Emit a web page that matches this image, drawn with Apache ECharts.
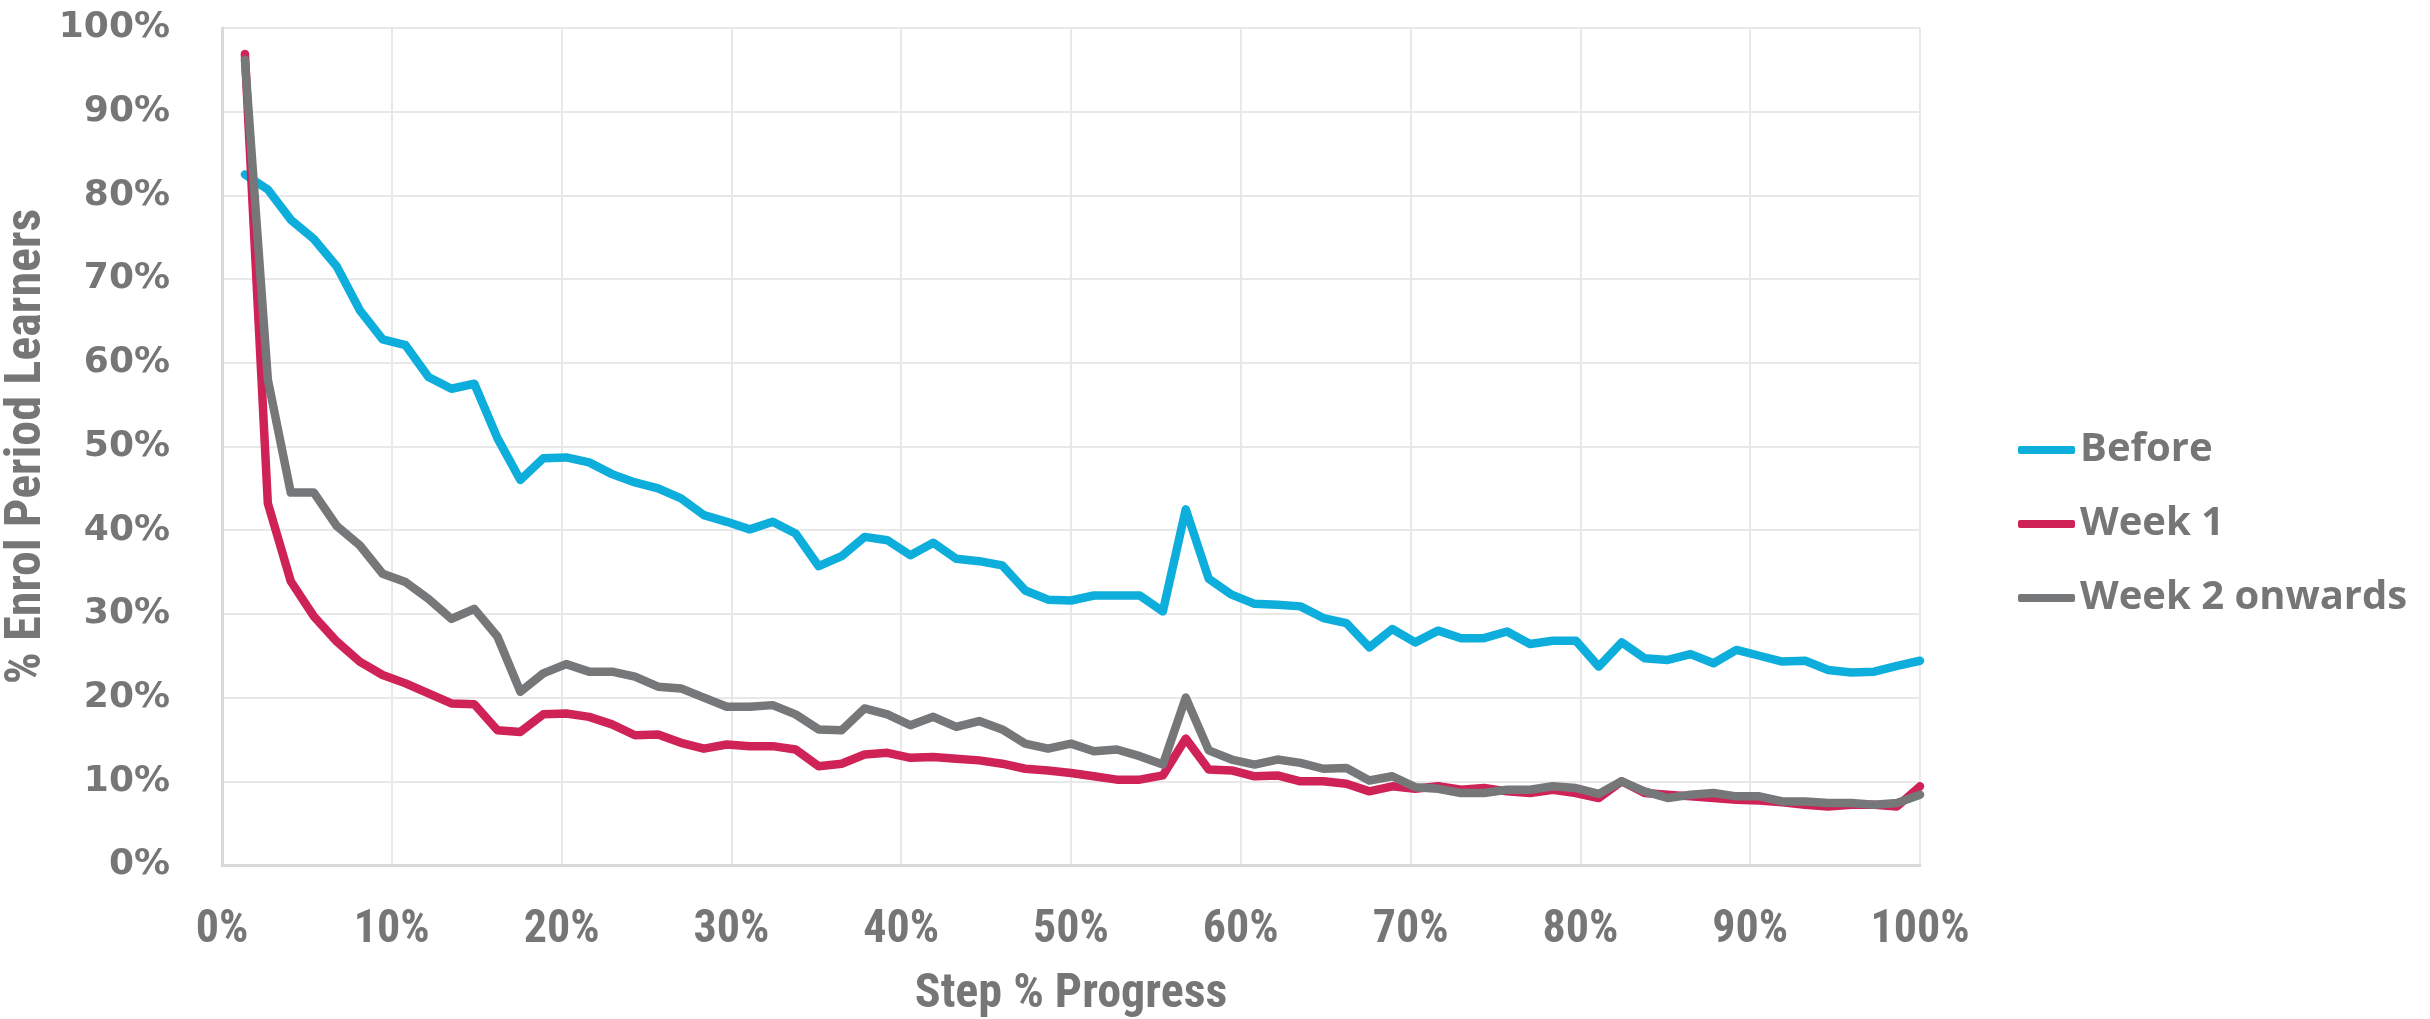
<!DOCTYPE html>
<html>
<head>
<meta charset="utf-8">
<title>Step progress by enrolment period</title>
<script src="https://cdn.jsdelivr.net/npm/echarts@6/dist/echarts.min.js"></script>
<style>
  html, body { margin: 0; padding: 0; background: #ffffff; }
  #chart { width: 2430px; height: 1019px; }
</style>
</head>
<body>
<div id="chart"></div>
<script>
// Step % progress (74 steps in the course)
const stepProgress = [
  1.35, 2.70, 4.05, 5.41, 6.76, 8.11, 9.46, 10.81, 12.16, 13.51,
  14.86, 16.22, 17.57, 18.92, 20.27, 21.62, 22.97, 24.32, 25.68, 27.03,
  28.38, 29.73, 31.08, 32.43, 33.78, 35.14, 36.49, 37.84, 39.19, 40.54,
  41.89, 43.24, 44.59, 45.95, 47.30, 48.65, 50.00, 51.35, 52.70, 54.05,
  55.41, 56.76, 58.11, 59.46, 60.81, 62.16, 63.51, 64.86, 66.22, 67.57,
  68.92, 70.27, 71.62, 72.97, 74.32, 75.68, 77.03, 78.38, 79.73, 81.08,
  82.43, 83.78, 85.14, 86.49, 87.84, 89.19, 90.54, 91.89, 93.24, 94.59,
  95.95, 97.30, 98.65, 100.00
];

// % of learners from each enrolment period reaching each step
const before = [
  82.5, 80.7, 77.1, 74.8, 71.5, 66.3, 62.8, 62.1, 58.3, 56.9,
  57.5, 51.0, 46.0, 48.6, 48.7, 48.1, 46.7, 45.7, 45.0, 43.8,
  41.8, 41.0, 40.1, 41.0, 39.6, 35.7, 36.9, 39.2, 38.8, 37.0,
  38.5, 36.6, 36.3, 35.8, 32.8, 31.7, 31.6, 32.2, 32.2, 32.2,
  30.3, 42.5, 34.2, 32.3, 31.2, 31.1, 30.9, 29.5, 28.9, 26.0,
  28.2, 26.6, 28.0, 27.1, 27.1, 27.9, 26.4, 26.8, 26.8, 23.7,
  26.6, 24.7, 24.5, 25.2, 24.1, 25.7, 25.0, 24.3, 24.4, 23.3,
  23.0, 23.1, 23.8, 24.4
];

const week1 = [
  96.9, 43.2, 33.9, 29.7, 26.7, 24.3, 22.7, 21.7, 20.5, 19.3,
  19.2, 16.1, 15.9, 18.0, 18.1, 17.7, 16.8, 15.5, 15.6, 14.6,
  13.9, 14.4, 14.2, 14.2, 13.8, 11.8, 12.1, 13.2, 13.4, 12.8,
  12.9, 12.7, 12.5, 12.1, 11.5, 11.3, 11.0, 10.6, 10.2, 10.2,
  10.7, 15.1, 11.4, 11.3, 10.6, 10.7, 10.0, 10.0, 9.7, 8.8,
  9.4, 9.1, 9.4, 9.0, 9.2, 8.8, 8.6, 9.0, 8.6, 8.0,
  10.0, 8.6, 8.4, 8.2, 8.0, 7.8, 7.7, 7.5, 7.2, 7.0,
  7.2, 7.2, 7.0, 9.4
];

const week2Onwards = [
  96.2, 58.0, 44.5, 44.5, 40.5, 38.2, 34.8, 33.8, 31.8, 29.4,
  30.6, 27.3, 20.7, 22.9, 24.0, 23.1, 23.1, 22.5, 21.3, 21.1,
  20.0, 18.9, 18.9, 19.1, 18.0, 16.2, 16.1, 18.7, 18.0, 16.7,
  17.7, 16.5, 17.2, 16.2, 14.5, 13.9, 14.5, 13.6, 13.8, 13.0,
  12.0, 20.0, 13.7, 12.6, 12.0, 12.6, 12.2, 11.5, 11.6, 10.1,
  10.6, 9.3, 9.1, 8.6, 8.6, 9.0, 9.0, 9.4, 9.2, 8.5,
  10.0, 8.8, 8.0, 8.4, 8.6, 8.2, 8.2, 7.6, 7.6, 7.4,
  7.4, 7.2, 7.4, 8.4
];

const seriesNames = ['Before', 'Week 1', 'Week 2 onwards'];
const seriesColors = ['#0DAEDB', '#CF2257', '#767779'];

const textGrey = '#767676';
const narrowFont = '"Liberation Sans Narrow", "Roboto Condensed", "DejaVu Sans Condensed", sans-serif';

function pairs(values) {
  return values.map((v, i) => [stepProgress[i], v]);
}

const chart = echarts.init(document.getElementById('chart'), null, { renderer: 'canvas' });

const lineSeries = [before, week1, week2Onwards].map((vals, k) => ({
  name: seriesNames[k],
  type: 'line',
  data: pairs(vals),
  showSymbol: false,
  symbol: 'none',
  animation: false,
  lineStyle: { color: seriesColors[k], width: 8.5, cap: 'round', join: 'round' },
  itemStyle: { color: seriesColors[k] },
  z: 2 + k
}));

chart.setOption({
  backgroundColor: '#ffffff',
  animation: false,
  grid: {
    left: 222, right: 510, top: 28, bottom: 154,
    containLabel: false,
    outerBoundsMode: 'none'
  },
  legend: {
    orient: 'vertical',
    left: 2013,
    top: 425,
    itemWidth: 57,
    itemHeight: 8,
    itemGap: 34,
    icon: 'roundRect',
    data: seriesNames,
    textStyle: {
      color: textGrey,
      fontFamily: '"Open Sans", "Noto Sans", sans-serif',
      fontWeight: 700,
      fontSize: 40,
      lineHeight: 40
    }
  },
  xAxis: {
    type: 'value',
    min: 0,
    max: 100,
    interval: 10,
    name: 'Step % Progress',
    nameLocation: 'middle',
    nameGap: 106,
    nameMoveOverlap: false,
    nameTextStyle: {
      color: textGrey,
      fontFamily: narrowFont,
      fontWeight: 700,
      fontSize: 48
    },
    axisLine: { show: true, lineStyle: { color: '#d9d9d9', width: 3 } },
    axisTick: { show: false },
    splitLine: { show: true, lineStyle: { color: '#e8e8e8', width: 2 } },
    axisLabel: {
      formatter: '{value}%',
      color: textGrey,
      margin: 42,
      fontFamily: narrowFont,
      fontWeight: 700,
      fontSize: 46
    }
  },
  yAxis: {
    type: 'value',
    min: 0,
    max: 100,
    interval: 10,
    name: '% Enrol Period Learners',
    nameLocation: 'middle',
    nameRotate: 90,
    nameGap: 170,
    nameMoveOverlap: false,
    nameTextStyle: {
      color: textGrey,
      fontFamily: narrowFont,
      fontWeight: 700,
      fontSize: 50
    },
    axisLine: { show: true, lineStyle: { color: '#d9d9d9', width: 3 } },
    axisTick: { show: false },
    splitLine: { show: true, lineStyle: { color: '#e8e8e8', width: 2 } },
    axisLabel: {
      formatter: '{value}%',
      color: textGrey,
      margin: 52,
      fontFamily: '"DejaVu Sans", Verdana, sans-serif',
      fontWeight: 700,
      fontSize: 36
    }
  },
  series: lineSeries
});
</script>
</body>
</html>
